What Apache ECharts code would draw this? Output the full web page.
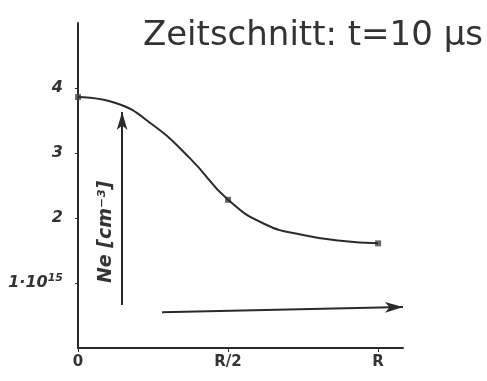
<!DOCTYPE html>
<html>
<head>
<meta charset="utf-8">
<script src="https://cdn.jsdelivr.net/npm/echarts@6/dist/echarts.min.js"></script>
<style>
  html, body { margin: 0; padding: 0; background: #fff; }
  #chart { width: 487px; height: 381px; }
</style>
</head>
<body>
<div id="chart"></div>
<script>
// Radial electron density profile, time slice t = 10 µs
const radius = [0, 0.125, 0.25, 0.375, 0.5, 0.625, 0.75, 0.875, 1.0];
const density = [3.86, 3.77, 3.43, 2.91, 2.28, 1.90, 1.74, 1.65, 1.61];

// measured points (marked on the curve)
const markRadius = [0, 0.5, 1.0];
const markDensity = [3.86, 2.28, 1.61];

// axis ticks
const xTicks = [0, 0.5, 1.0];
const xTickLabels = ['0', 'R/2', 'R'];
const yTicks = [1, 2, 3, 4];
const yTickLabels = ['1·10{s|15}', '2', '3', '4'];

// direction arrows (radius, density)
const arrowUp = [[0.147, 0.66], [0.147, 3.63]];
const arrowRight = [[0.28, 0.55], [1.083, 0.63]];

const ink = '#2a2a2a';
const chart = echarts.init(document.getElementById('chart'));

chart.setOption({
  animation: false,
  backgroundColor: '#ffffff',
  grid: { left: 78, top: 23, right: 84, bottom: 33 },
  xAxis: {
    type: 'value', min: 0, max: 1.083,
    axisLine: { lineStyle: { color: ink, width: 2 } },
    axisTick: { customValues: xTicks, length: 4, lineStyle: { color: ink } },
    axisLabel: {
      customValues: xTicks,
      formatter: v => xTickLabels[xTicks.indexOf(v)],
      fontFamily: 'DejaVu Sans', fontSize: 15, fontWeight: 'bold', color: '#333', margin: 7
    },
    splitLine: { show: false }
  },
  yAxis: {
    type: 'value', min: 0, max: 5,
    axisLine: { lineStyle: { color: ink, width: 2 } },
    axisTick: { customValues: yTicks, length: 3, lineStyle: { color: ink } },
    axisLabel: {
      customValues: yTicks,
      formatter: v => yTickLabels[yTicks.indexOf(v)],
      fontFamily: 'DejaVu Sans', fontSize: 16, fontWeight: 'bold', fontStyle: 'italic', color: '#333', margin: 15,
      rich: { s: { fontSize: 11, fontWeight: 'bold', fontStyle: 'italic', color: '#333', verticalAlign: 'bottom', padding: [0, 0, 9, 0] } }
    },
    splitLine: { show: false }
  },
  series: [
    {
      type: 'line', smooth: 0.5, showSymbol: false,
      data: radius.map((r, i) => [r, density[i]]),
      lineStyle: { color: ink, width: 2 }
    },
    {
      type: 'scatter', symbol: 'rect', symbolSize: 6,
      data: markRadius.map((r, i) => [r, markDensity[i]]),
      itemStyle: { color: '#444' }
    },
    {
      type: 'line', data: [], silent: true,
      markLine: {
        silent: true, symbol: ['none', 'arrow'], symbolSize: [8, 18],
        label: { show: false },
        lineStyle: { color: ink, width: 2, type: 'solid' },
        data: [
          [{ coord: arrowUp[0] }, { coord: arrowUp[1] }],
          [{ coord: arrowRight[0] }, { coord: arrowRight[1] }]
        ]
      }
    }
  ],
  graphic: [
    {
      type: 'text', x: 483, y: 36,
      style: {
        text: 'Zeitschnitt: t=10 µs', fontFamily: 'DejaVu Sans', fontSize: 34,
        fill: '#333', align: 'right', verticalAlign: 'middle'
      }
    },
    {
      type: 'text', x: 106, y: 232, rotation: Math.PI / 2,
      style: {
        text: 'Ne [cm⁻³]', fontFamily: 'DejaVu Sans', fontSize: 19, fontWeight: 'bold', fontStyle: 'italic',
        fill: '#333', align: 'center', verticalAlign: 'middle'
      }
    }
  ]
});
</script>
</body>
</html>
